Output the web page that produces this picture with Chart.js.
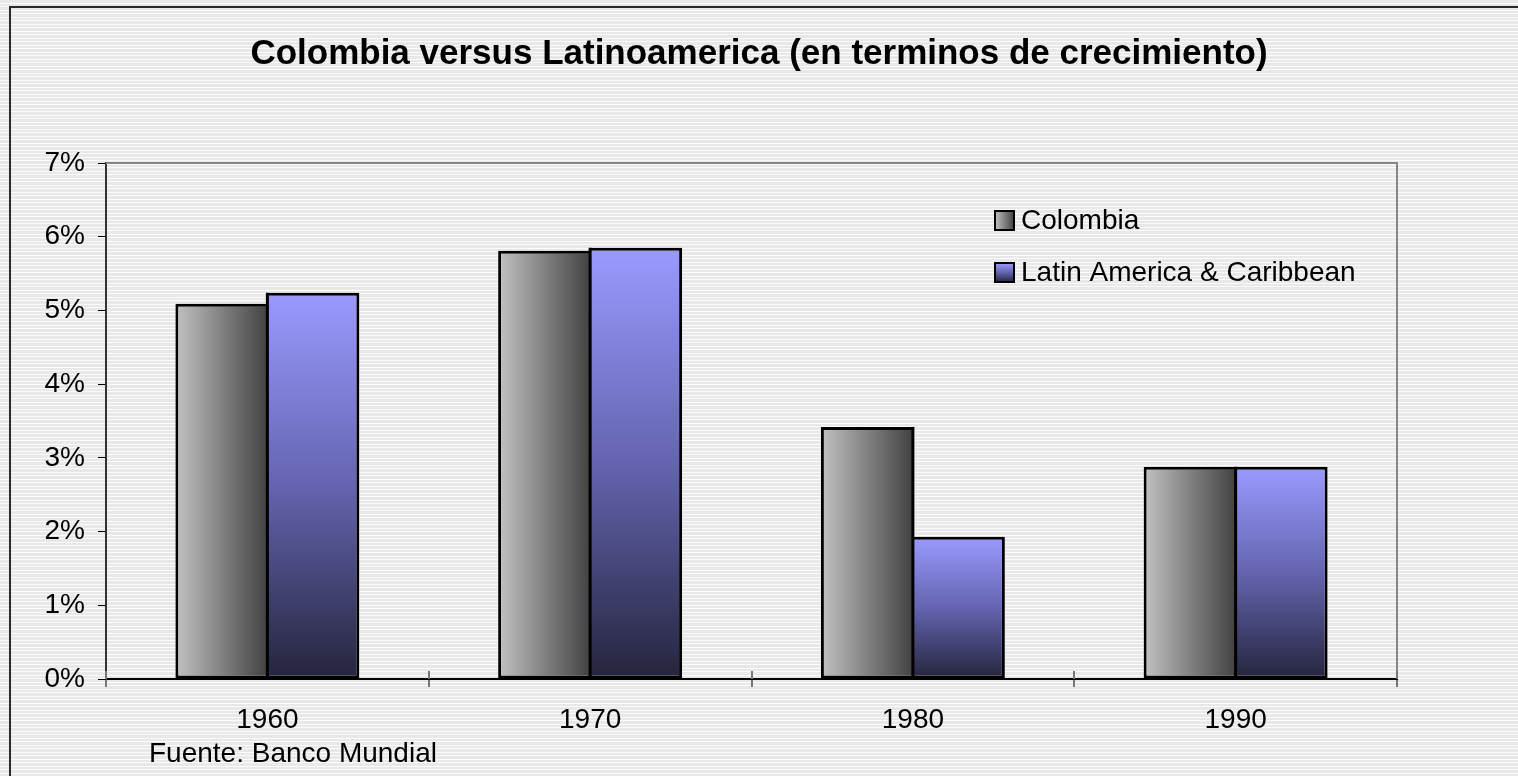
<!DOCTYPE html>
<html>
<head>
<meta charset="utf-8">
<script src="https://cdn.jsdelivr.net/npm/chart.js@4/dist/chart.umd.min.js"></script>
<style>
  html, body { margin: 0; padding: 0; }
  body {
    width: 1518px; height: 776px; overflow: hidden;
    background: repeating-linear-gradient(to bottom,
      #e8e8e8 0px, #e8e8e8 3px, #fbfbfb 3px, #fbfbfb 4px,
      #e8e8e8 4px, #e8e8e8 6px, #fbfbfb 6px, #fbfbfb 7px);
  }
  #wrap { position: absolute; left: 0; top: 0; width: 1518px; height: 776px; }
</style>
</head>
<body>
<div id="wrap"><canvas id="c"></canvas></div>
<script>
const titleText = 'Colombia versus Latinoamerica (en terminos de crecimiento)';
const sourceText = 'Fuente: Banco Mundial';
const categories = ['1960', '1970', '1980', '1990'];
const seriesNames = ['Colombia', 'Latin America & Caribbean'];
const colombia = [5.09, 5.81, 3.42, 2.88];
const latam = [5.24, 5.85, 1.93, 2.88];
const yMax = 7;
const yStep = 1;

const FONT = '"Liberation Sans", Arial, sans-serif';

function colGrad(ctx, x0, x1) {
  const g = ctx.createLinearGradient(x0, 0, x1, 0);
  g.addColorStop(0, '#c2c2c2');
  g.addColorStop(1, '#424242');
  return g;
}
function latGrad(ctx, y0, y1) {
  const g = ctx.createLinearGradient(0, y0, 0, y1);
  g.addColorStop(0, '#9a9aff');
  g.addColorStop(0.5, '#6464b0');
  g.addColorStop(1, '#25253d');
  return g;
}

const decorPlugin = {
  id: 'decor',
  beforeDatasetsDraw(chart) {
    const ctx = chart.ctx;
    chart.data.datasets.forEach((ds, di) => {
      const meta = chart.getDatasetMeta(di);
      meta.data.forEach(el => {
        const p = el.getProps(['x', 'y', 'base', 'width'], true);
        if (di === 0) el.options.backgroundColor = colGrad(ctx, p.x - p.width / 2, p.x + p.width / 2);
        else el.options.backgroundColor = latGrad(ctx, p.y, p.base);
      });
    });
  },
  afterDatasetsDraw(chart) {
    // shared border between the two bars of each category
    const ctx = chart.ctx;
    const m0 = chart.getDatasetMeta(0).data;
    const m1 = chart.getDatasetMeta(1).data;
    ctx.save();
    ctx.fillStyle = '#000';
    m0.forEach((el, i) => {
      const a = el.getProps(['x', 'y', 'base', 'width'], true);
      const b = m1[i].getProps(['y'], true);
      const bx = a.x + a.width / 2;
      const top = Math.min(a.y, b.y);
      ctx.fillRect(bx - 1.5, top, 3, a.base - top);
    });
    ctx.restore();
  },
  afterDraw(chart) {
    const ctx = chart.ctx;
    const a = chart.chartArea;
    ctx.save();
    // outer frame
    ctx.strokeStyle = '#2a2a2a';
    ctx.lineWidth = 2;
    ctx.beginPath();
    ctx.moveTo(10, 776); ctx.lineTo(10, 7); ctx.lineTo(1518, 7);
    ctx.stroke();
    // title
    ctx.fillStyle = '#000';
    ctx.font = 'bold 35px ' + FONT;
    ctx.textAlign = 'center';
    ctx.textBaseline = 'alphabetic';
    ctx.fillText(titleText, 759, 64);
    // plot border top & right
    ctx.strokeStyle = '#868686';
    ctx.lineWidth = 2;
    ctx.beginPath();
    ctx.moveTo(a.left, a.top); ctx.lineTo(a.right, a.top); ctx.lineTo(a.right, a.bottom);
    ctx.stroke();
    // inner part of x ticks (crossing)
    const xs = chart.scales.x;
    const half = (xs.getPixelForValue(1) - xs.getPixelForValue(0)) / 2;
    ctx.strokeStyle = '#777777';
    ctx.lineWidth = 2;
    ctx.beginPath();
    for (let i = 0; i <= categories.length; i++) {
      const px = Math.round(xs.getPixelForValue(i) - half);
      ctx.moveTo(px, a.bottom - 8); ctx.lineTo(px, a.bottom);
    }
    ctx.stroke();
    // legend
    ctx.font = '28px ' + FONT;
    ctx.textBaseline = 'middle';
    ctx.textAlign = 'left';
    chart.data.datasets.forEach((ds, di) => {
      const cy = 221 + di * 52;
      const bx = 995, by = cy - 10, s = 19;
      ctx.fillStyle = di === 0 ? colGrad(ctx, bx, bx + s) : latGrad(ctx, by, by + s);
      ctx.fillRect(bx, by, s, s);
      ctx.strokeStyle = '#000';
      ctx.lineWidth = 2;
      ctx.strokeRect(bx, by, s, s);
      ctx.fillStyle = '#000';
      ctx.fillText(ds.label, 1021, cy);
    });
    // source
    ctx.textBaseline = 'alphabetic';
    ctx.fillText(sourceText, 149, 762);
    ctx.restore();
  }
};

new Chart(document.getElementById('c'), {
  type: 'bar',
  data: {
    labels: categories,
    datasets: [
      { label: seriesNames[0], data: colombia, backgroundColor: () => '#888', borderColor: '#000', borderWidth: 3, borderSkipped: 'right' },
      { label: seriesNames[1], data: latam, backgroundColor: () => '#88f', borderColor: '#000', borderWidth: 3, borderSkipped: 'left' }
    ]
  },
  options: {
    responsive: true,
    maintainAspectRatio: false,
    animation: false,
    layout: { padding: { left: 0, right: 121, top: 163, bottom: 0 } },
    datasets: { bar: { categoryPercentage: 0.57, barPercentage: 1 } },
    plugins: {
      legend: { display: false },
      tooltip: { enabled: false },
      title: { display: false }
    },
    scales: {
      x: {
        afterFit(s) { s.height = 97; },
        border: { display: true, color: '#000', width: 2 },
        grid: { display: true, drawOnChartArea: false, tickLength: 8, color: '#777', lineWidth: 2, offset: true },
        ticks: { color: '#000', font: { family: FONT, size: 28 }, padding: 16 }
      },
      y: {
        min: 0, max: yMax,
        afterFit(s) { s.width = 106; },
        border: { display: true, color: '#333', width: 2 },
        grid: { display: true, drawOnChartArea: false, tickLength: 8, color: '#000', lineWidth: 1 },
        ticks: { stepSize: yStep, color: '#000', font: { family: FONT, size: 28 }, padding: 13,
                 callback: v => v + '%' }
      }
    }
  },
  plugins: [decorPlugin]
});
</script>
</body>
</html>
